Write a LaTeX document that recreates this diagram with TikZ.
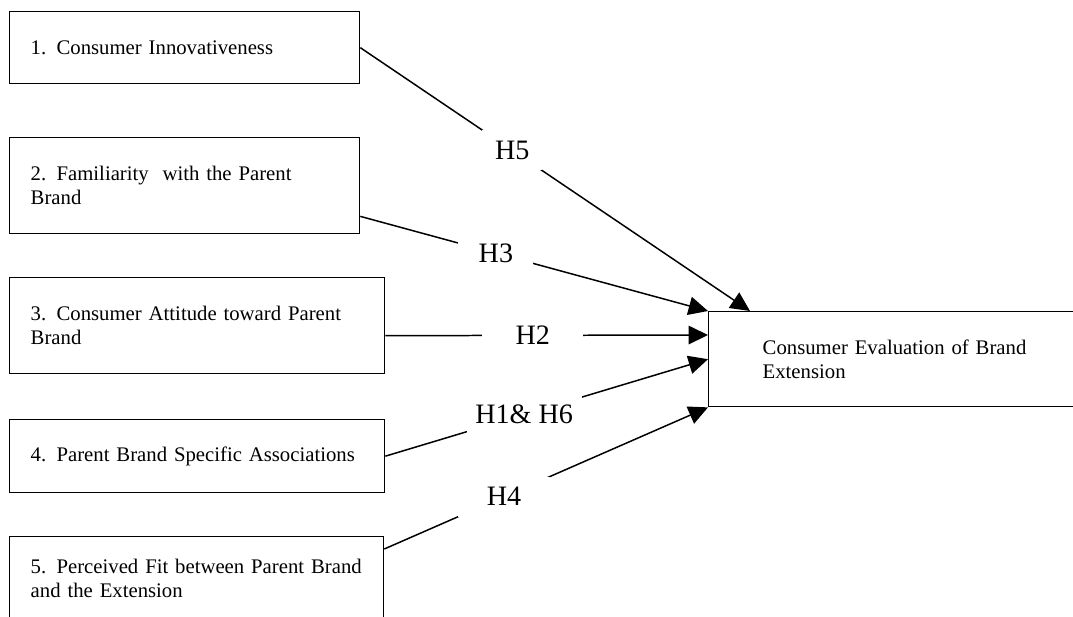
\documentclass[tikz,border=0pt]{standalone}
\usepackage{fontspec}
\setmainfont{Liberation Serif}
\usetikzlibrary{arrows.meta}
\begin{document}
\begin{tikzpicture}[x=0.02cm,y=-0.02cm,
    factor/.style={draw,line width=0.8pt,anchor=north west,align=left,inner xsep=0.42cm,inner ysep=0pt,font=\fontsize{11.8}{13.8}\selectfont},
    hyp/.style={fill=white,inner sep=0pt,minimum height=0.8cm,font=\fontsize{16}{18}\selectfont},
    link/.style={line width=0.85pt,-{Triangle[length=11pt,width=10.5pt]}}]
  \path[use as bounding box,clip] (0,0) rectangle (1073,617);
  \node[factor,text width=6.16cm,minimum height=1.44cm] (c1) at (9,11) {1. Consumer Innovativeness};
  \node[factor,text width=6.16cm,minimum height=1.92cm] (c2) at (9,137) {2. Familiarity\ \ with the Parent\\Brand};
  \node[factor,text width=6.66cm,minimum height=1.92cm] (c3) at (9,277) {\mbox{3. Consumer Attitude toward Parent}\\Brand};
  \node[factor,text width=6.66cm,minimum height=1.46cm] (c4) at (9,419) {4. Parent Brand Specific Associations};
  \node[factor,text width=6.64cm,minimum height=1.68cm] (c5) at (9,536) {\mbox{5. Perceived Fit between Parent Brand}\\and the Extension};
  \node[factor,inner xsep=1.08cm,text width=5.68cm,minimum height=1.9cm] (ev) at (708,311) {Consumer Evaluation of Brand\\Extension};
  \draw[link] (c1.east) -- node[hyp,minimum width=1.2cm,pos=0.39] {H5} ([xshift=0.84cm]ev.north west);
  \draw[link] ([yshift=0.36cm]c2.south east) -- node[hyp,minimum width=1.5cm,pos=0.39] {H3} (ev.north west);
  \draw[link] ([yshift=-0.2cm]c3.east) -- node[hyp,minimum width=2.02cm,pos=0.457] {H2} ([yshift=-0.48cm]ev.north west);
  \draw[link] (c4.east) -- node[hyp,minimum width=2.3cm,pos=0.43] {H1\& H6} (ev.west);
  \draw[link] ([yshift=-0.26cm]c5.north east) -- node[hyp,minimum width=1.84cm,pos=0.37] {H4} (ev.south west);
\end{tikzpicture}
\end{document}
